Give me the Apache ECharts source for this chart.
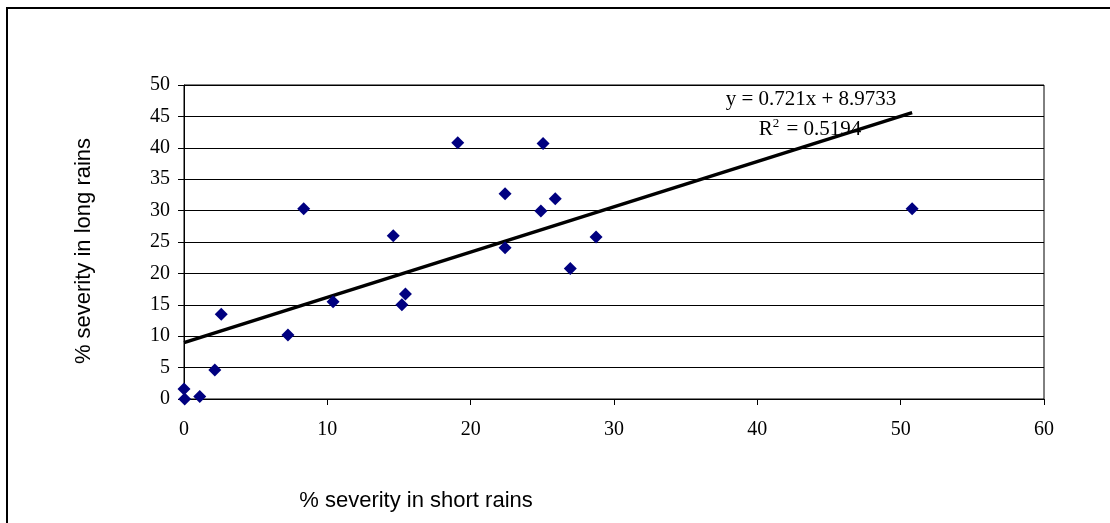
<!DOCTYPE html>
<html>
<head>
<meta charset="utf-8">
<script src="https://cdn.jsdelivr.net/npm/echarts@6/dist/echarts.min.js"></script>
<style>
  html, body { margin: 0; padding: 0; background: #fff; }
  #chart { width: 1110px; height: 523px; }
</style>
</head>
<body>
<div id="chart"></div>
<script>
// Disease severity (%) per site: short rains season vs long rains season
const shortRains = [0.05, 0.0, 1.1, 2.15, 2.6, 7.25, 8.35, 10.4, 14.6, 15.2, 15.45, 19.1, 22.4, 22.4, 25.05, 24.9, 25.9, 28.75, 26.95, 50.8];
const longRains  = [0.0, 1.6, 0.4, 4.6, 13.5, 10.2, 30.3, 15.5, 26.0, 15.0, 16.7, 40.8, 32.7, 24.1, 40.7, 29.95, 31.9, 25.8, 20.8, 30.3];

// Linear trend line reported for the data
const slope = 0.721;
const intercept = 8.9733;
const rSquared = 0.5194;

const xTicks = [0, 10, 20, 30, 40, 50, 60];
const yTicks = [0, 5, 10, 15, 20, 25, 30, 35, 40, 45, 50];

const points = shortRains.map((x, i) => [x, longRains[i]]);
const xMinData = Math.min(...shortRains);
const xMaxData = Math.max(...shortRains);
const trend = [xMinData, xMaxData].map(x => [x, slope * x + intercept]);

const serif = '"Liberation Serif", "Times New Roman", serif';
const sans = '"Liberation Sans", Arial, sans-serif';

const chart = echarts.init(document.getElementById('chart'), null, { renderer: 'canvas' });

chart.setOption({
  animation: false,
  backgroundColor: '#fff',
  grid: { left: 184, right: 66, top: 85, bottom: 124, containLabel: false,
          show: true, borderColor: '#000', borderWidth: 1, backgroundColor: '#fff' },
  xAxis: {
    type: 'value',
    min: xTicks[0], max: xTicks[xTicks.length - 1], interval: 10,
    name: '% severity in short rains',
    nameLocation: 'middle',
    nameGap: 91,
    // right padding pulls the title toward the left side of the axis
    nameTextStyle: { fontFamily: sans, fontSize: 22, color: '#000', padding: [0, 396, 0, 0] },
    axisLine: { show: true, onZero: false, lineStyle: { color: '#000', width: 1 } },
    axisTick: { show: true, inside: false, length: 6, lineStyle: { color: '#000' } },
    axisLabel: { fontFamily: serif, fontSize: 20, color: '#000', margin: 21 },
    splitLine: { show: false }
  },
  yAxis: {
    type: 'value',
    min: yTicks[0], max: yTicks[yTicks.length - 1], interval: 5,
    name: '% severity in long rains',
    nameLocation: 'middle',
    nameGap: 89,
    nameRotate: 90,
    // right padding moves the rotated title slightly downward
    nameTextStyle: { fontFamily: sans, fontSize: 22, color: '#000', padding: [0, 18, 0, 0] },
    axisLine: { show: true, onZero: false, lineStyle: { color: '#000', width: 1 } },
    axisTick: { show: true, inside: false, length: 6, lineStyle: { color: '#000' } },
    axisLabel: { fontFamily: serif, fontSize: 20, color: '#000', margin: 14 },
    splitLine: { show: true, lineStyle: { color: '#000', width: 1 } }
  },
  series: [
    {
      type: 'line',
      data: trend,
      symbol: 'none',
      lineStyle: { color: '#000', width: 3.5 },
      z: 2,
      silent: true
    },
    {
      type: 'scatter',
      data: points,
      symbol: 'diamond',
      symbolSize: [13, 13],
      itemStyle: { color: '#000080', opacity: 1 },
      z: 3
    }
  ],
  graphic: [
    {
      type: 'rect',
      shape: { x: 7, y: 8, width: 1120, height: 540 },
      style: { fill: null, stroke: '#000', lineWidth: 2 },
      silent: true, z: 10
    },
    {
      type: 'text',
      x: 811, y: 99,
      style: {
        text: 'y = ' + slope + 'x + ' + intercept,
        font: '21px ' + serif,
        fill: '#000',
        align: 'center',
        verticalAlign: 'middle'
      },
      z: 10
    },
    {
      type: 'text',
      x: 810, y: 129,
      style: {
        text: 'R{sup|2} = ' + rSquared,
        font: '21px ' + serif,
        fill: '#000',
        align: 'center',
        verticalAlign: 'middle',
        rich: {
          sup: { font: '13px ' + serif, fill: '#000', verticalAlign: 'top', padding: [0, 2, 10, 0] }
        }
      },
      z: 10
    }
  ]
});
</script>
</body>
</html>
